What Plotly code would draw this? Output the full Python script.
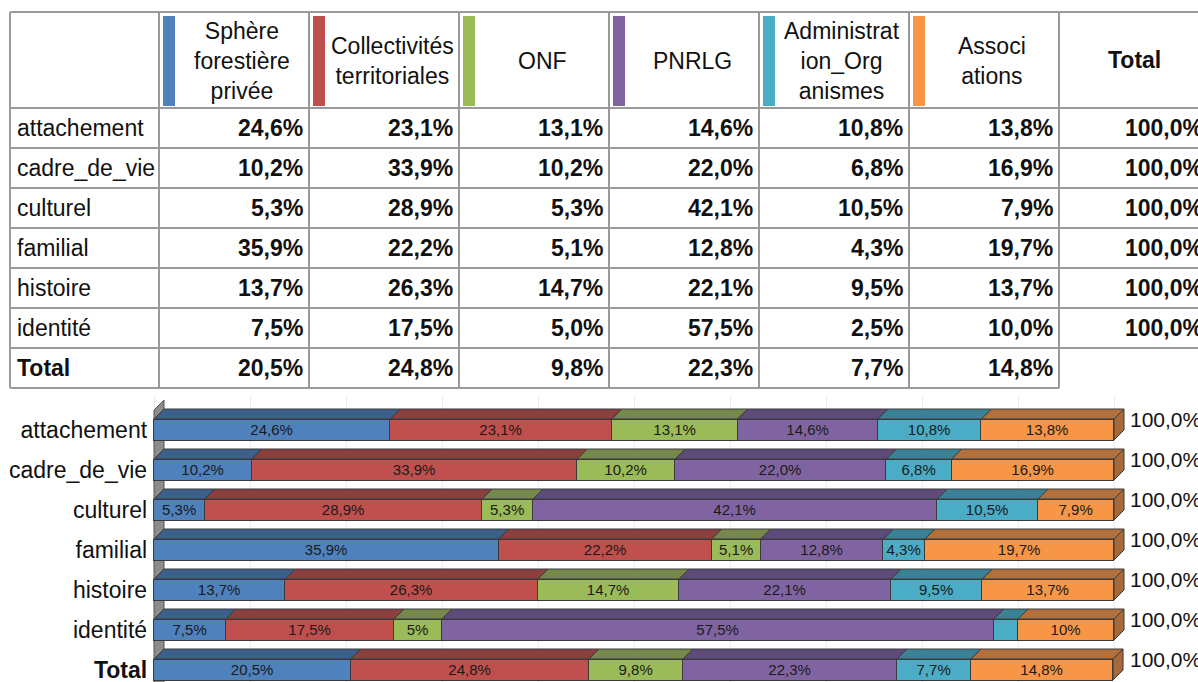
import plotly.graph_objects as go

# ---------------------------------------------------------------- data
categories = ["attachement", "cadre_de_vie", "culturel", "familial",
              "histoire", "identité", "Total"]

series_names = ["Sphère forestière privée", "Collectivités territoriales",
                "ONF", "PNRLG", "Administration_Organismes", "Associations"]
header_labels = ["Sphère<br>forestière<br>privée", "Collectivités<br>territoriales",
                 "ONF", "PNRLG", "Administrat<br>ion_Org<br>anismes", "Associ<br>ations"]

sphere_privee = [24.6, 10.2, 5.3, 35.9, 13.7, 7.5, 20.5]
collectivites = [23.1, 33.9, 28.9, 22.2, 26.3, 17.5, 24.8]
onf = [13.1, 10.2, 5.3, 5.1, 14.7, 5.0, 9.8]
pnrlg = [14.6, 22.0, 42.1, 12.8, 22.1, 57.5, 22.3]
administration = [10.8, 6.8, 10.5, 4.3, 9.5, 2.5, 7.7]
associations = [13.8, 16.9, 7.9, 19.7, 13.7, 10.0, 14.8]

row_totals = [100.0, 100.0, 100.0, 100.0, 100.0, 100.0, 100.0]
# the table leaves the Total/Total cell empty
table_total_shown = [True, True, True, True, True, True, False]

# a few segment labels use a shorter number format
label_overrides = {(5, 2): "5%", (5, 4): "", (5, 5): "10%"}

series_values = [sphere_privee, collectivites, onf, pnrlg, administration, associations]

front_colors = ["#4F81BD", "#C0504D", "#9BBB59", "#8064A2", "#4BACC6", "#F79646"]
top_colors = ["#3D5F8C", "#8B3F3E", "#76894A", "#5F4B7A", "#3A8396", "#B3703B"]
end_color = "#A8693A"
edge_color = "#3A3A3A"
grid_line_color = "#9A9A9A"

FONT = "Liberation Sans, Arial, Helvetica, sans-serif"
TABLE_SIZE = 23
W, H = 1198, 682


def pct(v):
    return f"{v:.1f}".replace(".", ",") + "%"


def px_x(px):
    return px / W


def px_y(py):
    return 1 - py / H


# ---------------------------------------------------------------- chart geometry
X0_PX = 154          # pixel position of 0 %
PX_PER_UNIT = 9.6    # pixels per percentage point
ROW0_PX = 429.5      # pixel centre of first category
ROW_PX = 40          # pixels between categories
BAR_W = 0.525        # bar thickness (category units)
DEPTH_PX = 10        # 3-D depth of the bars
dx = DEPTH_PX / PX_PER_UNIT
dy = DEPTH_PX / ROW_PX

x_range = [-0.3, 102.2]
x_domain = [(X0_PX + x_range[0] * PX_PER_UNIT) / W,
            (X0_PX + x_range[1] * PX_PER_UNIT) / W]
y_top = -0.85
y_bottom = (H - ROW0_PX) / ROW_PX
y_domain = [0, 1 - (ROW0_PX + y_top * ROW_PX) / H]

ypos = list(range(len(categories)))

fig = go.Figure()

for j, (name, vals) in enumerate(zip(series_names, series_values)):
    texts = [label_overrides.get((i, j), pct(v)) for i, v in enumerate(vals)]
    fig.add_trace(go.Bar(
        name=name, y=ypos, x=vals, orientation="h", width=BAR_W,
        marker=dict(color=front_colors[j], line=dict(color=edge_color, width=1)),
        text=texts, textposition="inside", insidetextanchor="middle",
        textangle=0, textfont=dict(family=FONT, size=15, color="#1A1A1A"),
        cliponaxis=False, hoverinfo="skip", showlegend=False,
    ))

shapes = []

# side wall behind the bars
wall_top_left = (410 - ROW0_PX) / ROW_PX
shapes.append(dict(
    type="path", xref="x", yref="y", layer="between",
    path=(f"M 0,{wall_top_left} L {dx},{wall_top_left - dy} "
          f"L {dx},{y_bottom + 2} L 0,{y_bottom + 2} Z"),
    fillcolor="#8C8C8C", line=dict(color="#555555", width=1),
))

# top faces and end caps of the 3-D bars
for i in range(len(categories)):
    yt = i - BAR_W / 2
    yb = i + BAR_W / 2
    start = 0.0
    for j, vals in enumerate(series_values):
        end = start + vals[i]
        shapes.append(dict(
            type="path", xref="x", yref="y", layer="above",
            path=(f"M {start},{yt} L {end},{yt} L {end + dx},{yt - dy} "
                  f"L {start + dx},{yt - dy} Z"),
            fillcolor=top_colors[j], line=dict(color=edge_color, width=1),
        ))
        start = end
    shapes.append(dict(
        type="path", xref="x", yref="y", layer="above",
        path=(f"M {start},{yt} L {start + dx},{yt - dy} "
              f"L {start + dx},{yb - dy} L {start},{yb} Z"),
        fillcolor=end_color, line=dict(color=edge_color, width=1),
    ))

annotations = []

# totals at the end of each bar
for i, tot in enumerate(row_totals):
    annotations.append(dict(
        x=tot + dx + 0.45, y=i - 0.24, xref="x", yref="y",
        text=pct(tot), showarrow=False, xanchor="left", yanchor="middle",
        font=dict(family=FONT, size=21, color="#111111"),
    ))

# ---------------------------------------------------------------- table
col_edges = [10, 159, 309, 459, 609, 759, 909, 1059, 1209]
row_edges = [12, 108, 148, 188, 228, 268, 308, 348, 388]

line_style = dict(color=grid_line_color, width=2)
for k, ry in enumerate(row_edges):
    x_end = col_edges[-2] if k == len(row_edges) - 1 else col_edges[-1]
    shapes.append(dict(type="line", xref="paper", yref="paper",
                       x0=px_x(col_edges[0]), x1=px_x(x_end),
                       y0=px_y(ry), y1=px_y(ry), line=line_style))
for k, cx in enumerate(col_edges):
    y_end = row_edges[-2] if k == len(col_edges) - 1 else row_edges[-1]
    shapes.append(dict(type="line", xref="paper", yref="paper",
                       x0=px_x(cx), x1=px_x(cx),
                       y0=px_y(row_edges[0]), y1=px_y(y_end), line=line_style))

header_mid = (row_edges[0] + row_edges[1]) / 2
for j, lab in enumerate(header_labels):
    left = col_edges[j + 1]
    right = col_edges[j + 2]
    # colour key strip
    shapes.append(dict(type="rect", xref="paper", yref="paper", layer="above",
                       x0=px_x(left + 4), x1=px_x(left + 16),
                       y0=px_y(row_edges[0] + 4), y1=px_y(row_edges[1] - 2),
                       fillcolor=front_colors[j], line=dict(width=0)))
    annotations.append(dict(
        x=px_x((left + 16 + right) / 2), y=px_y(header_mid + 1),
        xref="paper", yref="paper", text=lab, showarrow=False,
        xanchor="center", yanchor="middle", align="center",
        font=dict(family=FONT, size=TABLE_SIZE, color="#111111"),
    ))
annotations.append(dict(
    x=px_x((col_edges[-2] + col_edges[-1]) / 2), y=px_y(header_mid),
    xref="paper", yref="paper", text="<b>Total</b>", showarrow=False,
    xanchor="center", yanchor="middle",
    font=dict(family=FONT, size=TABLE_SIZE, color="#111111"),
))

for i, cat in enumerate(categories):
    cy = (row_edges[i + 1] + row_edges[i + 2]) / 2
    label = f"<b>{cat}</b>" if cat == "Total" else cat
    annotations.append(dict(
        x=px_x(col_edges[0] + 5), y=px_y(cy), xref="paper", yref="paper",
        text=label, showarrow=False, xanchor="left", yanchor="middle",
        font=dict(family=FONT, size=TABLE_SIZE, color="#111111"),
    ))
    cells = [pct(vals[i]) for vals in series_values]
    cells.append(pct(row_totals[i]) if table_total_shown[i] else "")
    for j, txt in enumerate(cells):
        if not txt:
            continue
        annotations.append(dict(
            x=px_x(col_edges[j + 2] - 4), y=px_y(cy), xref="paper", yref="paper",
            text=f"<b>{txt}</b>", showarrow=False, xanchor="right", yanchor="middle",
            font=dict(family=FONT, size=TABLE_SIZE, color="#111111"),
        ))

tick_text = [f"<b>{c}</b>" if c == "Total" else c for c in categories]

fig.update_layout(
    width=W, height=H, autosize=False,
    margin=dict(l=0, r=0, t=0, b=0, pad=0),
    paper_bgcolor="white", plot_bgcolor="white",
    barmode="stack", bargap=0,
    uniformtext=dict(minsize=15, mode="show"),
    font=dict(family=FONT, color="#111111"),
    xaxis=dict(range=x_range, domain=x_domain, showticklabels=False,
               showgrid=True, gridcolor="#EDEDED", gridwidth=1,
               tick0=0, dtick=10, zeroline=False, showline=False, ticks="",
               fixedrange=True),
    yaxis=dict(range=[y_bottom, y_top], domain=y_domain,
               tickvals=ypos, ticktext=tick_text, ticks="",
               ticklabeloverflow="allow", ticklabelstandoff=3,
               tickfont=dict(family=FONT, size=TABLE_SIZE, color="#111111"),
               showgrid=False, zeroline=False, showline=False, fixedrange=True),
    shapes=shapes, annotations=annotations,
    showlegend=False,
)

fig.write_html("out.html")
